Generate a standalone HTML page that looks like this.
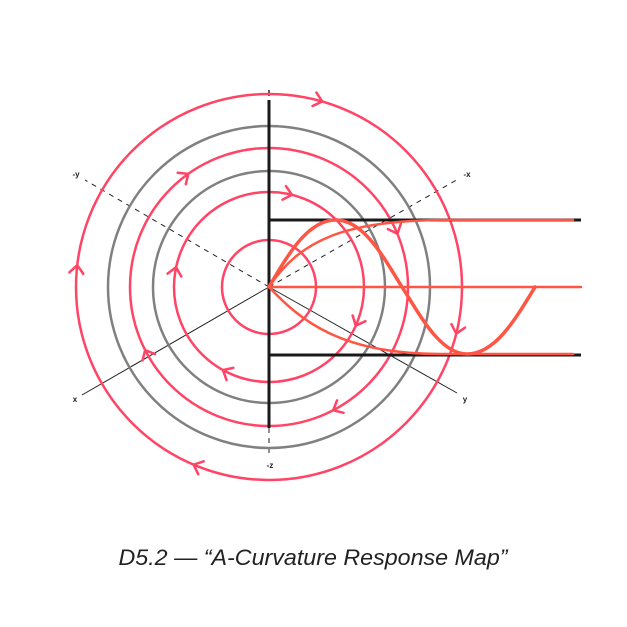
<!DOCTYPE html>
<html><head><meta charset="utf-8"><style>
html,body{margin:0;padding:0;background:#fff;width:627px;height:627px;overflow:hidden}
svg{display:block}
</style></head><body>
<svg width="627" height="627" viewBox="0 0 627 627" xmlns="http://www.w3.org/2000/svg">
<defs>
<g id="chev"><polyline points="-7,-8 0,0 7,-8" fill="none" stroke="#ff4466" stroke-width="2.5" stroke-linecap="round" stroke-linejoin="round"/></g>
</defs>
<line x1="269" y1="287" x2="82" y2="395" stroke="#222" stroke-width="1"/>
<line x1="269" y1="287" x2="457" y2="393" stroke="#222" stroke-width="1"/>
<line x1="269" y1="287" x2="85" y2="180" stroke="#222" stroke-width="1" stroke-dasharray="5,5"/>
<line x1="269" y1="287" x2="460" y2="178" stroke="#222" stroke-width="1" stroke-dasharray="5,5"/>
<line x1="269" y1="428" x2="269" y2="455" stroke="#222" stroke-width="1" stroke-dasharray="5,5"/>
<line x1="269" y1="90" x2="269" y2="96" stroke="#222" stroke-width="1.5"/>
<g fill="none" stroke-width="2.5">
<circle cx="269" cy="287" r="193" stroke="#ff4466"/>
<circle cx="269" cy="287" r="161" stroke="#808080"/>
<circle cx="269" cy="287" r="139" stroke="#ff4466"/>
<circle cx="269" cy="287" r="116" stroke="#808080"/>
<circle cx="269" cy="287" r="95" stroke="#ff4466"/>
<circle cx="269" cy="287" r="47" stroke="#ff4466"/>
</g>
<g transform="translate(269,287)">
<use href="#chev" transform="rotate(-74) translate(193,0)"/>
<use href="#chev" transform="rotate(186.5) translate(193,0)"/>
<use href="#chev" transform="rotate(113) translate(193,0)"/>
<use href="#chev" transform="rotate(14) translate(193,0)"/>
<use href="#chev" transform="rotate(-125.5) translate(139,0)"/>
<use href="#chev" transform="rotate(153) translate(139,0)"/>
<use href="#chev" transform="rotate(62.5) translate(139,0)"/>
<use href="#chev" transform="rotate(-22.5) translate(139,0)"/>
<use href="#chev" transform="rotate(-76) translate(95,0)"/>
<use href="#chev" transform="rotate(192) translate(95,0)"/>
<use href="#chev" transform="rotate(119) translate(95,0)"/>
<use href="#chev" transform="rotate(24) translate(95,0)"/>
</g>
<line x1="269" y1="100" x2="269" y2="428" stroke="#1a1a1a" stroke-width="3"/>
<line x1="269" y1="220" x2="581" y2="220" stroke="#1a1a1a" stroke-width="3"/>
<line x1="269" y1="355" x2="581" y2="355" stroke="#1a1a1a" stroke-width="3"/>
<g fill="none" stroke="#ff5544" stroke-linecap="round">
<line x1="269" y1="287" x2="581" y2="287" stroke-width="2.5"/>
<path d="M269,287 C300,240 345,221 440,220 L573,220" stroke-width="2.5"/>
<path d="M269,287 C300,320 340,354 440,354 L573,354" stroke-width="2.5"/>
<path d="M269,287 C290,250 310,219 337,220 C365,221 385,260 402,287 C420,315 440,354 467,354 C495,354 515,320 535,287" stroke-width="3.5"/>
</g>
<g font-family="Liberation Sans, sans-serif" font-size="8" font-weight="bold" fill="#222" text-anchor="middle">
<text x="76" y="177">-y</text>
<text x="467" y="177">-x</text>
<text x="75" y="402">x</text>
<text x="465" y="402">y</text>
<text x="270" y="468">-z</text>
</g>
<text x="313" y="565" font-family="Liberation Sans, sans-serif" font-style="italic" font-size="22" fill="#222" text-anchor="middle" textLength="389" lengthAdjust="spacingAndGlyphs">D5.2 — “A-Curvature Response Map”</text>
</svg>
</body></html>
